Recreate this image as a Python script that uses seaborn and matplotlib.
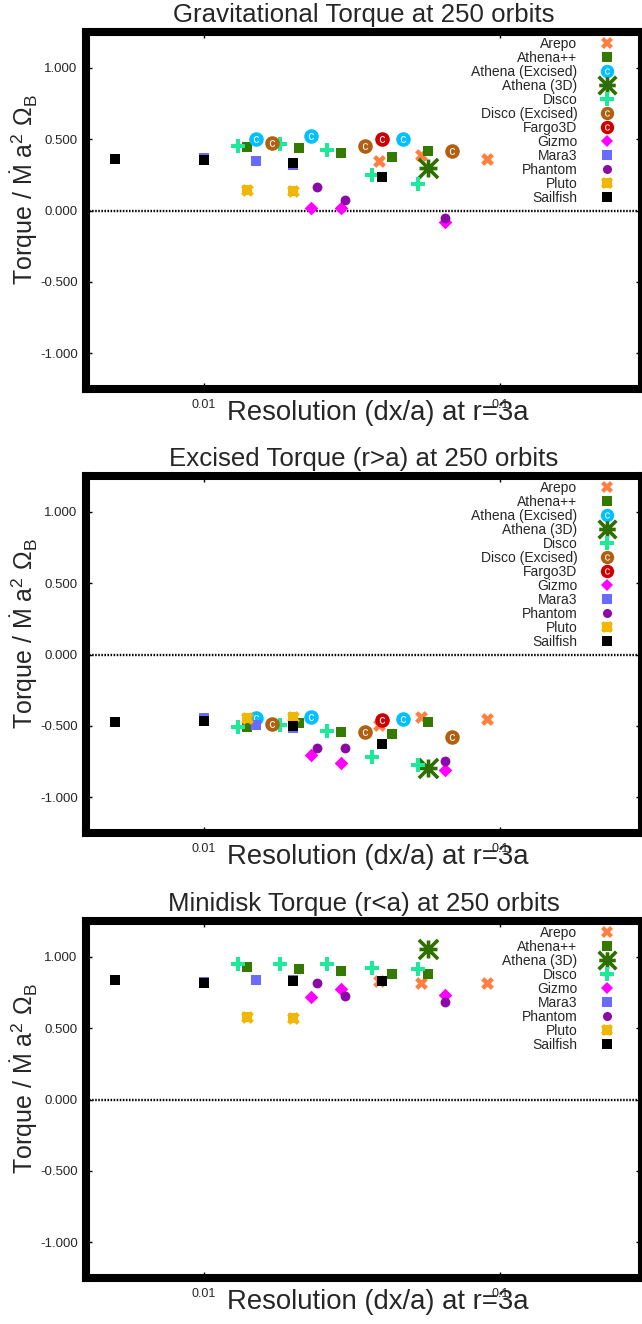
import numpy as np
import pandas as pd
import matplotlib
matplotlib.use("Agg")
import matplotlib.pyplot as plt
import seaborn as sns
from matplotlib.lines import Line2D
from matplotlib.path import Path
from matplotlib.ticker import NullLocator

# ---------------- data ----------------
CODES = ["Arepo", "Athena++", "Athena (Excised)", "Athena (3D)", "Disco",
         "Disco (Excised)", "Fargo3D", "Gizmo", "Mara3", "Phantom", "Pluto", "Sailfish"]
MINI_CODES = ["Arepo", "Athena++", "Athena (3D)", "Disco", "Gizmo", "Mara3",
              "Phantom", "Pluto", "Sailfish"]

TITLES = ["Gravitational Torque at 250 orbits",
          "Excised Torque (r>a) at 250 orbits",
          "Minidisk Torque (r<a) at 250 orbits"]

grav_code = ["Arepo", "Arepo", "Arepo",
             "Athena++", "Athena++", "Athena++", "Athena++", "Athena++",
             "Athena (Excised)", "Athena (Excised)", "Athena (Excised)",
             "Athena (3D)",
             "Disco", "Disco", "Disco", "Disco", "Disco",
             "Disco (Excised)", "Disco (Excised)", "Disco (Excised)",
             "Fargo3D",
             "Gizmo", "Gizmo", "Gizmo",
             "Mara3", "Mara3", "Mara3",
             "Phantom", "Phantom", "Phantom",
             "Pluto", "Pluto",
             "Sailfish", "Sailfish", "Sailfish", "Sailfish"]
grav_x = [0.039, 0.054, 0.090,
          0.014, 0.021, 0.029, 0.043, 0.057,
          0.015, 0.023, 0.047,
          0.057,
          0.013, 0.018, 0.026, 0.037, 0.053,
          0.017, 0.035, 0.069,
          0.040,
          0.023, 0.029, 0.065,
          0.010, 0.015, 0.020,
          0.024, 0.030, 0.065,
          0.014, 0.020,
          0.005, 0.010, 0.020, 0.040]
grav_y = [0.346, 0.391, 0.363,
          0.443, 0.436, 0.403, 0.375, 0.415,
          0.504, 0.522, 0.501,
          0.300,
          0.450, 0.469, 0.424, 0.251, 0.183,
          0.471, 0.450, 0.415,
          0.504,
          0.016, 0.021, -0.080,
          0.370, 0.344, 0.318,
          0.162, 0.072, -0.056,
          0.143, 0.138,
          0.364, 0.353, 0.330, 0.232]

exc_code = grav_code
exc_x = grav_x
exc_y = [-0.492, -0.436, -0.455,
         -0.506, -0.480, -0.543, -0.560, -0.476,
         -0.448, -0.438, -0.455,
         -0.795,
         -0.506, -0.497, -0.534, -0.716, -0.776,
         -0.485, -0.543, -0.576,
         -0.462,
         -0.706, -0.760, -0.809,
         -0.448, -0.497, -0.518,
         -0.657, -0.657, -0.743,
         -0.443, -0.438,
         -0.473, -0.466, -0.503, -0.627]

mini_code = ["Arepo", "Arepo", "Arepo",
             "Athena++", "Athena++", "Athena++", "Athena++", "Athena++",
             "Athena (3D)",
             "Disco", "Disco", "Disco", "Disco", "Disco",
             "Gizmo", "Gizmo", "Gizmo",
             "Mara3", "Mara3", "Mara3",
             "Phantom", "Phantom", "Phantom",
             "Pluto", "Pluto",
             "Sailfish", "Sailfish", "Sailfish", "Sailfish"]
mini_x = [0.039, 0.054, 0.090,
          0.014, 0.021, 0.029, 0.043, 0.057,
          0.057,
          0.013, 0.018, 0.026, 0.037, 0.053,
          0.023, 0.029, 0.065,
          0.010, 0.015, 0.020,
          0.024, 0.030, 0.065,
          0.014, 0.020,
          0.005, 0.010, 0.020, 0.040]
mini_y = [0.832, 0.818, 0.816,
          0.930, 0.911, 0.902, 0.881, 0.881,
          1.056,
          0.951, 0.951, 0.951, 0.923, 0.916,
          0.718, 0.776, 0.729,
          0.825, 0.834, 0.839,
          0.816, 0.725, 0.680,
          0.576, 0.571,
          0.834, 0.813, 0.830, 0.827]

Y_TICKS = [-1.0, -0.5, 0.0, 0.5, 1.0]
X_TICKS = [0.01, 0.1]
X_TICK_LABELS = ["0.01", "0.1"]

# ---------------- styles ----------------
sns.set_theme(style="white")
plt.rcParams["font.family"] = ["Liberation Sans", "DejaVu Sans"]
plt.rcParams["mathtext.fontset"] = "custom"
plt.rcParams["mathtext.rm"] = "Liberation Sans"
plt.rcParams["mathtext.it"] = "Liberation Sans:italic"
plt.rcParams["mathtext.bf"] = "Liberation Sans:bold"

star = Path([(-0.75, 0), (0.75, 0), (0, -0.75), (0, 0.75),
             (-0.8, -0.8), (0.8, 0.8), (-0.8, 0.8), (0.8, -0.8)],
            [Path.MOVETO, Path.LINETO, Path.MOVETO, Path.LINETO,
             Path.MOVETO, Path.LINETO, Path.MOVETO, Path.LINETO])

C_MARK = dict(marker=r"$\mathrm{c}$", s=24, color="white", lw=0)
STYLE = {
    "Arepo": [dict(marker="X", s=85, color="#ff7f40", lw=0)],
    "Athena++": [dict(marker="s", s=52, color="#357a00", lw=0)],
    "Athena (Excised)": [dict(marker="o", s=110, color="#00c0ff", lw=0), C_MARK],
    "Athena (3D)": [dict(marker=star, s=190, color="#2f6f00", lw=2.6)],
    "Disco": [dict(marker="P", s=115, color="#1de99b", lw=0)],
    "Disco (Excised)": [dict(marker="o", s=110, color="#b06010", lw=0), C_MARK],
    "Fargo3D": [dict(marker="o", s=110, color="#cc0000", lw=0), C_MARK],
    "Gizmo": [dict(marker="D", s=48, color="#ff00ff", lw=0)],
    "Mara3": [dict(marker="s", s=52, color="#6a6aff", lw=0)],
    "Phantom": [dict(marker="o", s=50, color="#8b0aa5", lw=0)],
    "Pluto": [dict(marker="X", s=85, color="#f2b705", lw=0),
              dict(marker="s", s=52, color="#f2b705", lw=0)],
    "Sailfish": [dict(marker="s", s=52, color="black", lw=0)],
}

fig = plt.figure(figsize=(6.42, 13.24), dpi=100)
W, H = 642.0, 1324.0
LEFT, RIGHT = 86.0, 641.5
panel_tops = [32.0, 476.0, 921.0]
panel_h = 357.0

panels = [
    (grav_code, grav_x, grav_y, CODES),
    (exc_code, exc_x, exc_y, CODES),
    (mini_code, mini_x, mini_y, MINI_CODES),
]

for i, (codes, xs, ys, legend_codes) in enumerate(panels):
    top = panel_tops[i]
    ax = fig.add_axes([LEFT / W, 1 - (top + panel_h) / H, (RIGHT - LEFT) / W, panel_h / H])
    df = pd.DataFrame({"code": codes, "x": xs, "y": ys})

    ax.axhline(0, color="black", lw=1.7, ls=(0, (0.65, 0.65)), zorder=1)

    handles = []
    for code in legend_codes:
        sub = df[df["code"] == code]
        parts = []
        for st in STYLE[code]:
            sns.scatterplot(data=sub, x="x", y="y", ax=ax, marker=st["marker"], s=st["s"],
                            color=st["color"], edgecolor=st["color"], linewidth=st["lw"],
                            legend=False, zorder=3)
            parts.append(Line2D([], [], ls="none", marker=st["marker"],
                                markersize=np.sqrt(st["s"]) * 0.92, markerfacecolor=st["color"],
                                markeredgecolor=st["color"], markeredgewidth=st["lw"]))
        handles.append(tuple(parts) if len(parts) > 1 else parts[0])

    ax.set_xscale("log")
    ax.set_xlim(0.004, 0.3)
    ax.set_ylim(-1.25, 1.25)
    ax.set_xticks(X_TICKS)
    ax.set_xticklabels(X_TICK_LABELS)
    ax.xaxis.set_minor_locator(NullLocator())
    ax.set_yticks(Y_TICKS)
    ax.set_yticklabels([f"{v:.3f}" for v in Y_TICKS])
    ax.tick_params(axis="both", which="both", direction="in", length=4.3, width=1.0,
                   color="black", top=True, right=True, bottom=True, left=True)
    ax.tick_params(axis="y", labelsize=9.5, pad=6)
    ax.tick_params(axis="x", labelsize=9, pad=7)

    for sp in ax.spines.values():
        sp.set_visible(True)
        sp.set_color("black")
        sp.set_linewidth(5.8)
        sp.set_capstyle("projecting")

    ax.set_title(TITLES[i], fontsize=18.6, pad=7)
    ax.set_xlabel("Resolution (dx/a) at r=3a", fontsize=19.8)
    ax.set_ylabel(r"Torque / $\dot{\mathrm{M}}$ a$^2$ $\Omega_\mathrm{B}$", fontsize=18)
    ax.xaxis.set_label_coords(0.526, -0.03)
    ax.yaxis.set_label_coords(-0.083, 0.56)
    ax.grid(False)

    leg = ax.legend(handles, legend_codes, loc="upper right", bbox_to_anchor=(0.962, 0.986),
                    frameon=False, markerfirst=False, fontsize=10, labelspacing=0.0,
                    handlelength=2.0, handletextpad=1.1, borderpad=0, borderaxespad=0)
    for col in leg._legend_handle_box.get_children():
        col.align = "right"

fig.savefig("out.png", dpi=100)
